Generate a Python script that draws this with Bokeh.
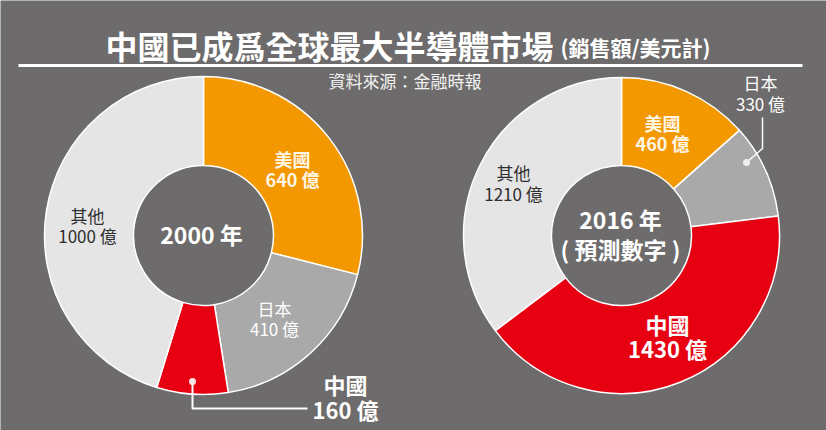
import math
from bokeh.plotting import figure
from bokeh.models import Range1d, ColumnDataSource
from bokeh.core.properties import value
from bokeh.embed import file_html
from bokeh.resources import INLINE

# ---------------- data ----------------
categories = ["美國", "日本", "中國", "其他"]
values_2000 = [640, 410, 160, 1000]
values_2016 = [460, 330, 1430, 1210]
year_2000 = "2000 年"
year_2016 = "2016 年"
forecast_note = "( 預測數字 )"
unit = "億"
title_main = "中國已成爲全球最大半導體市場"
title_sub = "(銷售額/美元計)"
source_note = "資料來源：金融時報"

# ---------------- style ----------------
BG = "#6d6b6b"
slice_colors = ["#f39800", "#a9a9a9", "#e60012", "#e5e5e6"]
FONT = value("Noto Sans CJK TC")

W, H = 826, 430

p = figure(width=W, height=H, x_range=Range1d(0, W), y_range=Range1d(0, H),
           output_backend="svg", toolbar_location=None, min_border=0)
p.axis.visible = False
p.grid.visible = False
p.outline_line_color = None
p.background_fill_color = BG
p.border_fill_color = BG


def Y(y):
    return H - y


def donut(cx, cy, vals, R, r):
    total = float(sum(vals))
    cum = 0.0
    starts, ends = [], []
    for v in vals:
        starts.append(math.pi / 2 - 2 * math.pi * cum / total)
        cum += v
        ends.append(math.pi / 2 - 2 * math.pi * cum / total)
    src = ColumnDataSource(dict(x=[cx] * len(vals), y=[Y(cy)] * len(vals),
                                s=starts, e=ends, c=slice_colors, cat=categories, v=vals))
    p.annular_wedge(x="x", y="y", inner_radius=r, outer_radius=R, start_angle="s", end_angle="e",
                    direction="clock", fill_color="c", line_color="white", line_width=1.5,
                    source=src)


def txt(x, y, s, size, color="white", bold=False, align="center"):
    p.text(x=[x], y=[Y(y)], text=[s], text_font=FONT, text_font_size=f"{size}px",
           text_font_style="bold" if bold else "normal", text_color=color,
           text_align=align, text_baseline="middle")


def label(cat_index, vals, x, y, size, color, bold, gap):
    txt(x, y, categories[cat_index], size, color, bold)
    txt(x, y + gap, f"{vals[cat_index]} {unit}", size, color, bold)


# ---------------- title ----------------
txt(105, 44, title_main, 32, "white", True, "left")
txt(560, 46, title_sub, 21, "white", True, "left")
p.line(x=[18, 802], y=[Y(65), Y(65)], line_color="white", line_width=3)
txt(328, 80, source_note, 17, "#f2f2f2", False, "left")

# ---------------- donuts ----------------
donut(203, 235, values_2000, 159, 70)
donut(621, 235, values_2016, 158, 70)

CREAM = "#fff6e6"
DARK = "#2e2e2e"

# 2000
label(0, values_2000, 292, 158, 18, CREAM, True, 20)
label(3, values_2000, 87, 215, 17, DARK, False, 20)
label(1, values_2000, 274, 308, 17, "white", False, 20)
label(2, values_2000, 345, 383, 22, "white", True, 25)
txt(201, 233, year_2000, 23, "white", True)
p.line(x=[192, 192, 307], y=[Y(381), Y(408), Y(408)], line_color="white", line_width=2)
p.scatter(x=[192], y=[Y(381)], size=7, fill_color="#fbe3e3", line_color=None)

# 2016
label(0, values_2016, 662, 122, 18, CREAM, True, 20)
label(1, values_2016, 760, 82, 17, "white", False, 21)
label(3, values_2016, 513, 172, 17, DARK, False, 21)
label(2, values_2016, 667, 323, 22, "white", True, 24)
txt(620, 218, year_2016, 23, "white", True)
txt(620, 248, forecast_note, 23, "white", True)
p.line(x=[762, 762, 746], y=[Y(117), Y(148), Y(162)], line_color="white", line_width=1.5)
p.scatter(x=[746], y=[Y(162)], size=7, fill_color="#eeeeee", line_color=None)

html = file_html(p, INLINE)
html = html.replace("<body>", f'<body style="background-color:{BG};">', 1)
open("out.html", "w").write(html)
